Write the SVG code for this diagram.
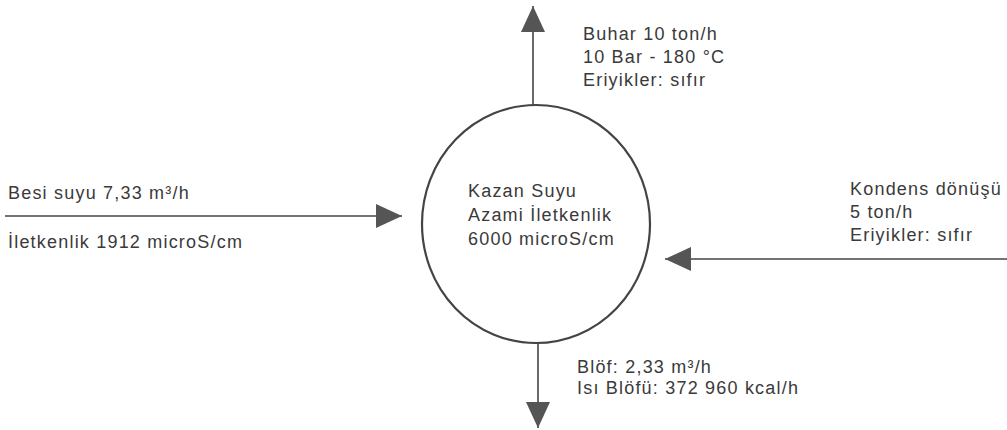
<svg xmlns="http://www.w3.org/2000/svg" width="1007" height="430" viewBox="0 0 1007 430">
<style>
.t{font-family:"Liberation Sans",Arial,sans-serif;font-size:18px;letter-spacing:1.2px;fill:#3a3a3a}
.ln{stroke:#444;stroke-width:1.6;fill:none}
.node{stroke:#444;stroke-width:2.2;fill:#fff}
</style>
<defs>
<marker id="ah" viewBox="0 0 26 24" refX="26" refY="12" markerWidth="26" markerHeight="24" markerUnits="userSpaceOnUse" orient="auto">
<path d="M0,0 L26,12 L0,24 Z" fill="#555"/>
</marker>
</defs>
<rect width="1007" height="430" fill="#fff"/>
<g id="connectors">
<line class="ln" x1="533" y1="106" x2="533" y2="6" marker-end="url(#ah)"/>
<line class="ln" x1="538" y1="343" x2="538" y2="428" marker-end="url(#ah)"/>
<line class="ln" x1="5" y1="216" x2="402" y2="216" marker-end="url(#ah)"/>
<line class="ln" x1="1007" y1="259" x2="665" y2="259" marker-end="url(#ah)"/>
</g>
<g id="kazan">
<ellipse class="node" cx="536" cy="224" rx="114" ry="119"/>
<text class="t" x="468" y="197">Kazan Suyu</text>
<text class="t" x="468" y="221">Azami İletkenlik</text>
<text class="t" x="468" y="245">6000 microS/cm</text>
</g>
<g id="buhar">
<text class="t" x="583" y="40">Buhar 10 ton/h</text>
<text class="t" x="583" y="63">10 Bar - 180 °C</text>
<text class="t" x="583" y="86">Eriyikler: sıfır</text>
</g>
<g id="besi">
<text class="t" x="8" y="199">Besi suyu 7,33 m³/h</text>
<text class="t" x="8" y="248">İletkenlik 1912 microS/cm</text>
</g>
<g id="kondens">
<text class="t" x="850" y="195">Kondens dönüşü</text>
<text class="t" x="850" y="218">5 ton/h</text>
<text class="t" x="850" y="241">Eriyikler: sıfır</text>
</g>
<g id="blof">
<text class="t" x="577" y="373">Blöf: 2,33 m³/h</text>
<text class="t" x="577" y="394">Isı Blöfü: 372 960 kcal/h</text>
</g>
</svg>
